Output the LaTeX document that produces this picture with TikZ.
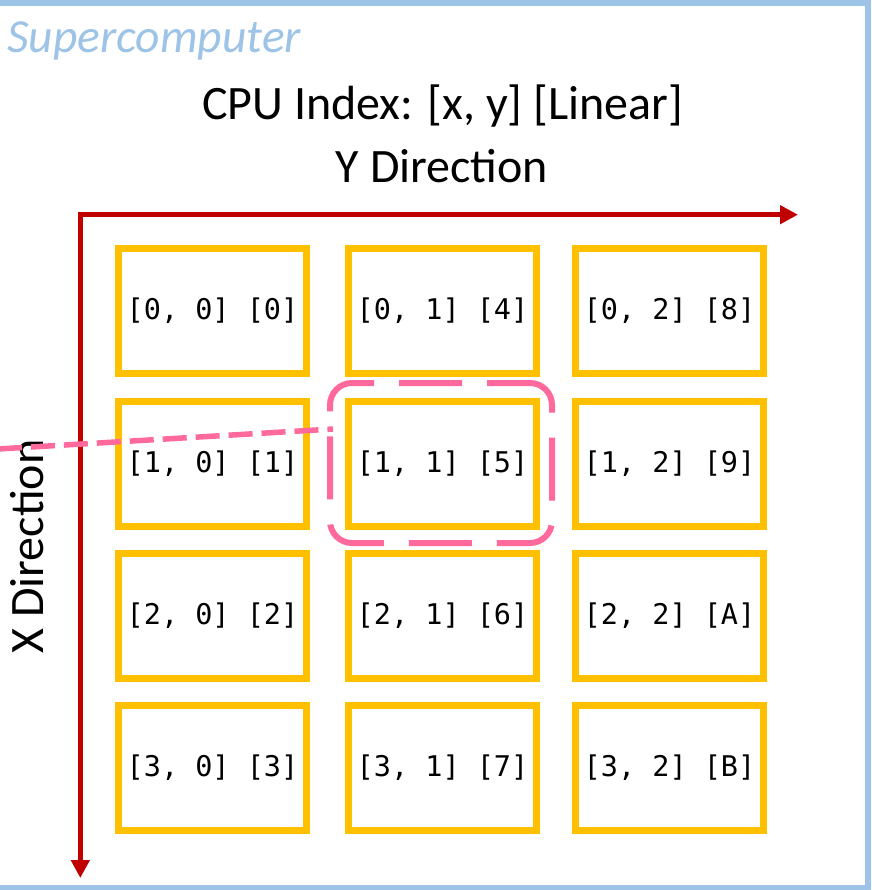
\documentclass[tikz,border=0pt]{standalone}
\usepackage{fontspec}
\setmainfont{Carlito}
\newfontfamily\boxmono{DejaVu Sans Mono}
\usetikzlibrary{arrows.meta}
\definecolor{frameblue}{HTML}{9DC3E6}
\definecolor{axisred}{HTML}{C00000}
\definecolor{cpuorange}{HTML}{FFC000}
\definecolor{focuspink}{RGB}{255,105,155}
\tikzset{
  cpubox/.style={draw=cpuorange, line width=7pt, minimum width=188pt, minimum height=125pt, inner sep=0pt, font=\boxmono\fontsize{28.5}{30}\selectfont},
  axisline/.style={draw=axisred, line width=5.5pt, {Triangle[width=18pt,length=18pt]}-{Triangle[width=18pt,length=18pt]}},
  bigtext/.style={inner sep=0pt, font=\fontsize{48}{52}\selectfont},
  focusbox/.style={draw=focuspink, line width=6pt, rounded corners=22pt, dash pattern=on 63pt off 25pt, dash phase=20pt, minimum width=222pt, minimum height=160pt, inner sep=0pt},
  focusline/.style={draw=focuspink, line width=5.5pt, dash pattern=on 24pt off 9pt}
}
\begin{document}
\begin{tikzpicture}[x=1pt,y=-1pt]
\useasboundingbox (0,0) rectangle (871,890);
\clip (0,0) rectangle (871,890);
% frame
\draw[frameblue, line width=6pt] (-20,3) rectangle (868,888);
\node[anchor=base west, inner sep=0pt, text=frameblue, font=\itshape\fontsize{47.5}{50}\selectfont] (title) at (7,53) {Supercomputer};
\node[bigtext, anchor=base] (cpuidx) at (442.5,120) {CPU Index: [x, y] [Linear]};
\node[bigtext, anchor=base] (ydir) at (442,183) {Y Direction};
\node[bigtext, anchor=base, rotate=90] (xdir) at (43,546.5) {X Direction};
% axes
\coordinate (origin) at (80.3,214.7);
\coordinate (yend) at (798,214.7);
\coordinate (xend) at (80.3,878);
\draw[axisline] (yend) -- (origin) -- (xend);
% boxes
\node[cpubox] (b00) at (212.5,311) {[0, 0] [0]};
\node[cpubox] (b01) at (442.5,311) {[0, 1] [4]};
\node[cpubox] (b02) at (669.5,311) {[0, 2] [8]};
\node[cpubox] (b10) at (212.5,464) {[1, 0] [1]};
\node[cpubox] (b11) at (442.5,464) {[1, 1] [5]};
\node[cpubox] (b12) at (669.5,464) {[1, 2] [9]};
\node[cpubox] (b20) at (212.5,616) {[2, 0] [2]};
\node[cpubox] (b21) at (442.5,616) {[2, 1] [6]};
\node[cpubox] (b22) at (669.5,616) {[2, 2] [A]};
\node[cpubox] (b30) at (212.5,768) {[3, 0] [3]};
\node[cpubox] (b31) at (442.5,768) {[3, 1] [7]};
\node[cpubox] (b32) at (669.5,768) {[3, 2] [B]};
% focus callout
\node[focusbox] (focus) at (441,463) {};
\coordinate (tail) at (-2,449);
\coordinate (join) at (333,429);
\draw[focusline] (tail) -- (join);
\end{tikzpicture}
\end{document}
